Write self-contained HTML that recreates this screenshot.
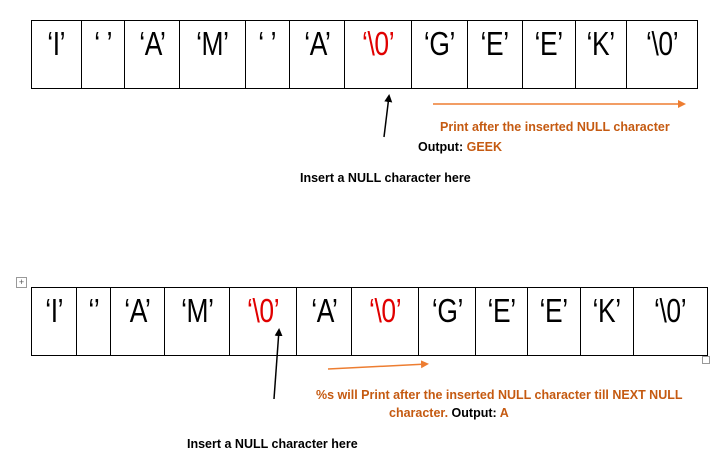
<!DOCTYPE html>
<html><head><style>
body{margin:0;width:726px;height:462px;background:#fff;position:relative;overflow:hidden;font-family:"Liberation Sans",sans-serif}
.c{position:absolute;border:1px solid #000;box-sizing:border-box;text-align:center;font-family:"Liberation Sans",sans-serif;font-size:33px;line-height:46px;letter-spacing:-0.5px}
.c span{display:inline-block;transform:scaleX(0.8)}
.r{color:#e00000}
.lbl{position:absolute;font-size:12.5px;font-weight:bold;white-space:nowrap;letter-spacing:0}
.o{color:#c55a11}
</style></head><body>
<div class="c" style="left:31px;top:20px;width:51px;height:69px"><span>‘I’</span></div>
<div class="c" style="left:81px;top:20px;width:44px;height:69px"><span>‘ ’</span></div>
<div class="c" style="left:124px;top:20px;width:56px;height:69px"><span>‘A’</span></div>
<div class="c" style="left:179px;top:20px;width:67px;height:69px"><span>‘M’</span></div>
<div class="c" style="left:245px;top:20px;width:45px;height:69px"><span>‘ ’</span></div>
<div class="c" style="left:289px;top:20px;width:56px;height:69px"><span>‘A’</span></div>
<div class="c r" style="left:344px;top:20px;width:68px;height:69px"><span>‘\0’</span></div>
<div class="c" style="left:411px;top:20px;width:57px;height:69px"><span>‘G’</span></div>
<div class="c" style="left:467px;top:20px;width:56px;height:69px"><span>‘E’</span></div>
<div class="c" style="left:522px;top:20px;width:54px;height:69px"><span>‘E’</span></div>
<div class="c" style="left:575px;top:20px;width:52px;height:69px"><span>‘K’</span></div>
<div class="c" style="left:626px;top:20px;width:72px;height:69px"><span>‘\0’</span></div>

<div class="c" style="left:31px;top:287px;width:46px;height:69px"><span>‘I’</span></div>
<div class="c" style="left:76px;top:287px;width:35px;height:69px"><span>‘’</span></div>
<div class="c" style="left:110px;top:287px;width:55px;height:69px"><span>‘A’</span></div>
<div class="c" style="left:164px;top:287px;width:66px;height:69px"><span>‘M’</span></div>
<div class="c r" style="left:229px;top:287px;width:68px;height:69px"><span>‘\0’</span></div>
<div class="c" style="left:296px;top:287px;width:56px;height:69px"><span>‘A’</span></div>
<div class="c r" style="left:351px;top:287px;width:68px;height:69px"><span>‘\0’</span></div>
<div class="c" style="left:418px;top:287px;width:58px;height:69px"><span>‘G’</span></div>
<div class="c" style="left:475px;top:287px;width:53px;height:69px"><span>‘E’</span></div>
<div class="c" style="left:527px;top:287px;width:54px;height:69px"><span>‘E’</span></div>
<div class="c" style="left:580px;top:287px;width:54px;height:69px"><span>‘K’</span></div>
<div class="c" style="left:633px;top:287px;width:75px;height:69px"><span>‘\0’</span></div>

<div style="position:absolute;left:16px;top:277px;width:9px;height:9px;border:1px solid #999;font-size:9px;line-height:9px;text-align:center;color:#555">+</div>
<div style="position:absolute;left:702px;top:356px;width:6px;height:6px;border:1px solid #999"></div>
<svg width="726" height="462" style="position:absolute;left:0;top:0">
<defs>
<marker id="b" markerWidth="8" markerHeight="8" refX="6" refY="4" orient="auto" markerUnits="userSpaceOnUse"><path d="M0,0 L8,4 L0,8z" fill="#000"/></marker>
<marker id="or" markerWidth="8" markerHeight="8" refX="6" refY="4" orient="auto" markerUnits="userSpaceOnUse"><path d="M0,0 L8,4 L0,8z" fill="#ed7d31"/></marker>
</defs>
<line x1="384" y1="137" x2="389" y2="96" stroke="#000" stroke-width="1.5" marker-end="url(#b)"/>
<line x1="433" y1="104" x2="684" y2="104" stroke="#ed7d31" stroke-width="1.5" marker-end="url(#or)"/>
<line x1="274" y1="399" x2="279" y2="330" stroke="#000" stroke-width="1.5" marker-end="url(#b)"/>
<line x1="328" y1="369" x2="427" y2="364" stroke="#ed7d31" stroke-width="1.5" marker-end="url(#or)"/>
</svg>
<div class="lbl o" style="left:440px;top:120px">Print after the inserted NULL character</div>
<div class="lbl" style="left:418px;top:140px">Output: <span class="o">GEEK</span></div>
<div class="lbl" style="left:300px;top:171px">Insert a NULL character here</div>
<div class="lbl o" style="left:316px;top:388px">%s will Print after the inserted NULL character till NEXT NULL</div>
<div class="lbl" style="left:389px;top:406px"><span class="o">character.</span> Output: <span class="o">A</span></div>
<div class="lbl" style="left:187px;top:437px">Insert a NULL character here</div>
</body></html>
